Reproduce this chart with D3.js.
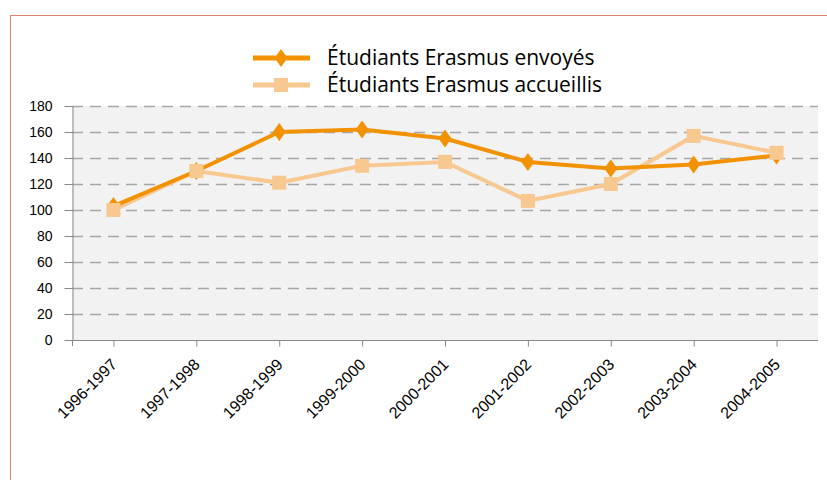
<!DOCTYPE html>
<html><head><meta charset="utf-8">
<script src="https://cdn.jsdelivr.net/npm/d3@7"></script>
<style>body{margin:0;background:#fff;} svg{display:block;font-family:"Open Sans",sans-serif;}</style>
</head><body>
<svg id="c" width="827" height="480"></svg>
<script>
const categories = ["1996-1997","1997-1998","1998-1999","1999-2000","2000-2001","2001-2002","2002-2003","2003-2004","2004-2005"];
const envoyes = [103, 130, 160, 162, 155, 137, 132, 135, 142];
const accueillis = [100, 130, 121, 134, 137, 107, 120, 157, 144];
const seriesNames = ["Étudiants Erasmus envoyés", "Étudiants Erasmus accueillis"];
const yTicks = [0,20,40,60,80,100,120,140,160,180];

const svg = d3.select("#c");
svg.append("rect").attr("x",10.5).attr("y",15.5).attr("width",830).attr("height",480)
  .attr("fill","none").attr("stroke","#d9846b").attr("stroke-width",1);

const L=72, R=818, T=106, B=340;
const x = d3.scalePoint().domain(categories).range([L,R]).padding(0.5);
const y = d3.scaleLinear().domain([0,180]).range([B,T]);

svg.append("rect").attr("x",L).attr("y",T).attr("width",R-L).attr("height",B-T).attr("fill","#f2f2f2");

svg.append("g").selectAll("line").data(yTicks.filter(d=>d>0)).join("line")
  .attr("x1",L).attr("x2",R).attr("y1",d=>y(d)+0.5).attr("y2",d=>y(d)+0.5)
  .attr("stroke","#a6a6a6").attr("stroke-width",1.5).attr("stroke-dasharray","11,7");

const yAxis = svg.append("g").attr("transform",`translate(${L+0.5},0)`)
  .call(d3.axisLeft(y).tickValues(yTicks).tickSize(8).tickSizeOuter(0));
yAxis.select(".domain").attr("stroke","#888");
yAxis.selectAll(".tick line").attr("stroke","#888");
yAxis.selectAll("text").attr("font-size",14).attr("fill","#000").attr("x",-20).attr("dy","0.35em");

const xAxis = svg.append("g").attr("transform",`translate(0,${B+0.5})`)
  .call(d3.axisBottom(x).tickSize(6).tickSizeOuter(0));
xAxis.select(".domain").attr("stroke","#888").attr("d",`M${L},0H${R}`);
xAxis.selectAll(".tick line").attr("stroke","#888");
xAxis.selectAll("text").attr("font-size",16).attr("fill","#000")
  .attr("text-anchor","end").attr("dy",0).attr("y",0)
  .attr("transform","translate(4,25) rotate(-45)");
svg.append("line").attr("x1",L+0.5).attr("x2",L+0.5).attr("y1",B).attr("y2",B+6).attr("stroke","#888");

const colors = ["#f39200","#f8c891"];
const line = d3.line().x((d,i)=>x(categories[i])).y(d=>y(d));
const diamondPath = "M0,-9L6.5,0L0,9L-6.5,0Z";
const square = d3.symbol().type(d3.symbolSquare2).size(250);

svg.append("path").datum(accueillis).attr("d",line).attr("fill","none").attr("stroke",colors[1]).attr("stroke-width",4);
svg.append("path").datum(envoyes).attr("d",line).attr("fill","none").attr("stroke",colors[0]).attr("stroke-width",4);
svg.append("g").selectAll("path").data(envoyes).join("path")
  .attr("transform",(d,i)=>`translate(${x(categories[i])},${y(d)})`).attr("d",diamondPath).attr("fill",colors[0]);
svg.append("g").selectAll("path").data(accueillis).join("path")
  .attr("transform",(d,i)=>`translate(${x(categories[i])},${y(d)})`).attr("d",square).attr("fill",colors[1]);

const leg = svg.append("g");
seriesNames.forEach((n,i)=>{
  const yy = 58 + i*27;
  leg.append("line").attr("x1",253).attr("x2",310).attr("y1",yy).attr("y2",yy).attr("stroke",colors[i]).attr("stroke-width",5);
  leg.append("path").attr("transform",`translate(281,${yy})`).attr("d", i===0?diamondPath:square).attr("fill",colors[i]);
  leg.append("text").attr("x",327).attr("y",yy).attr("dy","0.35em").attr("font-size",21).attr("fill","#000").text(n);
});
</script>
</body></html>
